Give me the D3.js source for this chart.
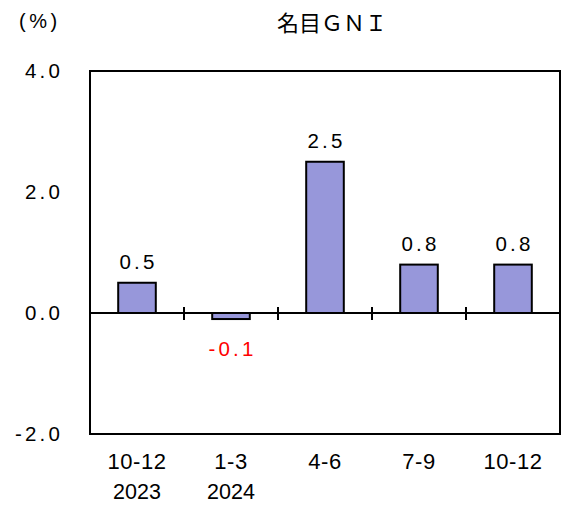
<!DOCTYPE html>
<html><head><meta charset="utf-8">
<script src="https://cdn.jsdelivr.net/npm/d3@7"></script>
<style>body{margin:0;background:#fff}svg{display:block}text{font-family:"Liberation Sans",Arial,"Noto Sans CJK JP",sans-serif}</style>
</head><body>
<script>
const categories = ["10-12", "1-3", "4-6", "7-9", "10-12"];
const years = ["2023", "2024", "", "", ""];
const values = [0.5, -0.1, 2.5, 0.8, 0.8];
const yTicks = [4.0, 2.0, 0.0, -2.0];
const title = "名目ＧＮＩ";
const unit = "(%)";

const W = 562, H = 505;
const m = {left: 90, right: 2, top: 71, bottom: 71};
const svg = d3.select("body").append("svg").attr("width", W).attr("height", H);
const x = d3.scaleBand().domain(d3.range(categories.length)).range([m.left, W - m.right]).paddingInner(0.6).paddingOuter(0.3);
const xb = d3.scaleBand().domain(d3.range(categories.length)).range([m.left, W - m.right]);
const y = d3.scaleLinear().domain([-2, 4]).range([H - m.bottom, m.top]);

// y tick labels
svg.selectAll(".yt").data(yTicks).enter().append("text")
  .attr("x", 63).attr("y", d => y(d)).attr("dy", "0.36em")
  .attr("text-anchor", "end").attr("font-size", 20.5).attr("letter-spacing", 3.2)
  .text(d => d.toFixed(1));

// bars
svg.selectAll(".bar").data(values).enter().append("rect")
  .attr("x", (d, i) => x(i)).attr("width", x.bandwidth())
  .attr("y", d => y(Math.max(0, d))).attr("height", d => Math.abs(y(d) - y(0)))
  .attr("fill", "#9797da").attr("stroke", "#000").attr("stroke-width", 2);

// zero line
svg.append("line").attr("x1", m.left).attr("x2", W - m.right).attr("y1", y(0)).attr("y2", y(0))
  .attr("stroke", "#000").attr("stroke-width", 2);
// category separator ticks
svg.selectAll(".tk").data(d3.range(1, categories.length)).enter().append("line")
  .attr("x1", i => xb(i)).attr("x2", i => xb(i)).attr("y1", y(0) - 6).attr("y2", y(0) + 7)
  .attr("stroke", "#000").attr("stroke-width", 2);

// frame
svg.append("rect").attr("x", m.left).attr("y", m.top).attr("width", W - m.right - m.left).attr("height", H - m.bottom - m.top)
  .attr("fill", "none").attr("stroke", "#000").attr("stroke-width", 2);

// value labels
svg.selectAll(".vl").data(values).enter().append("text")
  .attr("x", (d, i) => x(i) + x.bandwidth() / 2 + 1.5)
  .attr("y", d => d >= 0 ? y(d) - 14 : y(0) + 43)
  .attr("text-anchor", "middle").attr("font-size", 20.5).attr("letter-spacing", 3.2)
  .attr("fill", d => d < 0 ? "#ff0000" : "#000")
  .text(d => d.toFixed(1));

// category labels
svg.selectAll(".cl").data(categories).enter().append("text")
  .attr("x", (d, i) => xb(i) + xb.bandwidth() / 2).attr("y", 469)
  .attr("text-anchor", "middle").attr("font-size", 22).attr("letter-spacing", 0.5)
  .text(d => d);
svg.selectAll(".yl").data(years).enter().append("text")
  .attr("x", (d, i) => xb(i) + xb.bandwidth() / 2).attr("y", 499)
  .attr("text-anchor", "middle").attr("font-size", 21.5)
  .text(d => d);

svg.append("text").attr("x", 332).attr("y", 31).attr("text-anchor", "middle").attr("font-size", 22)
  .attr("font-family", "Noto Sans CJK JP").text(title);
svg.append("text").attr("x", 19).attr("y", 28).attr("font-size", 20).attr("letter-spacing", 3.5).text(unit);
</script>
</body></html>
